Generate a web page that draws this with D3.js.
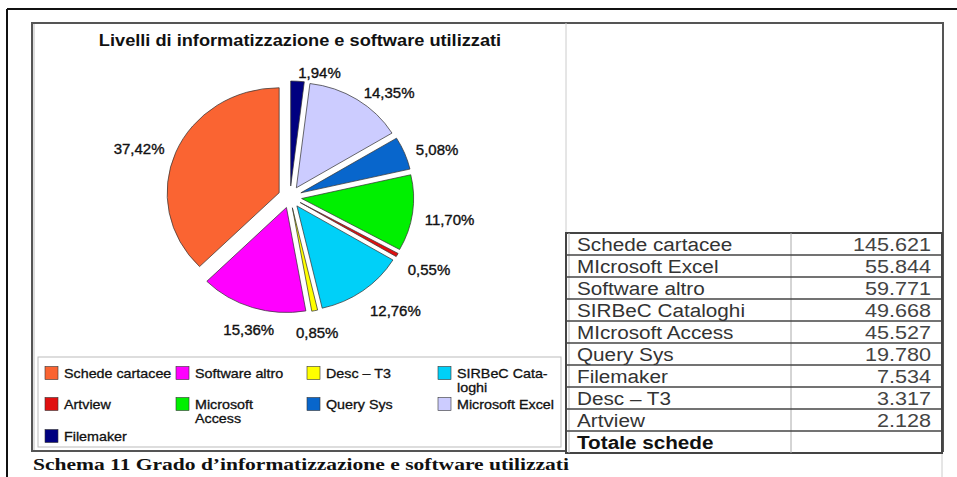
<!DOCTYPE html>
<html>
<head>
<meta charset="utf-8">
<script src="https://cdn.jsdelivr.net/npm/d3@7"></script>
<style>
  body { margin: 0; background: #fff; }
  svg { display: block; }
  text { font-family: "Liberation Sans", Arial, sans-serif; }
</style>
</head>
<body>
<svg id="chart" width="957" height="477"></svg>
<script>
// data, in legend order (the pie runs the same order counter-clockwise from 12 o'clock)
const categories = ["Schede cartacee", "Software altro", "Desc – T3", "SIRBeC Cataloghi", "Artview",
                    "Microsoft Access", "Query Sys", "Microsoft Excel", "Filemaker"];
const values = [145621, 59771, 3317, 49668, 2128, 45527, 19780, 55844, 7534];
const colors = ["#fa6432", "#ff00ff", "#ffff00", "#00d0f8", "#e01010", "#00f000", "#0866cc", "#ccccff", "#000080"];
const legendLines = [["Schede cartacee"], ["Software altro"], ["Desc – T3"], ["SIRBeC Cata-", "loghi"], ["Artview"],
                     ["Microsoft", "Access"], ["Query Sys"], ["Microsoft Excel"], ["Filemaker"]];

// table on the right, its own order and spelling
const tableKeys = ["Schede cartacee", "Microsoft Excel", "Software altro", "SIRBeC Cataloghi", "Microsoft Access",
                   "Query Sys", "Filemaker", "Desc – T3", "Artview"];
const tableLabels = ["Schede cartacee", "MIcrosoft Excel", "Software altro", "SIRBeC Cataloghi", "MIcrosoft Access",
                     "Query Sys", "Filemaker", "Desc – T3", "Artview"];
const totalLabel = "Totale schede";

const chartTitle = "Livelli di informatizzazione e software utilizzati";
const caption = "Schema 11 Grado d\u2019informatizzazione e software utilizzati";

const it = d3.formatLocale({decimal: ",", thousands: ".", grouping: [3], currency: ["€", ""]});
const fmtPct = it.format(".2%");
const fmtNum = it.format(",d");

const svg = d3.select("#chart");

// stretch text horizontally (the scanned picture is wider than tall)
function stretch(sel, f) {
  sel.each(function() {
    const w = this.getComputedTextLength();
    d3.select(this).attr("textLength", w * f).attr("lengthAdjust", "spacingAndGlyphs");
  });
}

// page frame
svg.append("line").attr("x1", 7).attr("x2", 957).attr("y1", 9).attr("y2", 9).attr("stroke", "#111").attr("stroke-width", 2);
svg.append("line").attr("x1", 7).attr("x2", 7).attr("y1", 9).attr("y2", 477).attr("stroke", "#111").attr("stroke-width", 2);
svg.append("line").attr("x1", 942).attr("x2", 942).attr("y1", 452).attr("y2", 477).attr("stroke", "#ccc");

// outer table frame
svg.append("rect").attr("x", 32).attr("y", 23).attr("width", 911).attr("height", 428)
  .attr("fill", "none").attr("stroke", "#555").attr("stroke-width", 2);
svg.append("line").attr("x1", 566).attr("x2", 566).attr("y1", 23).attr("y2", 233).attr("stroke", "#ccc");
svg.append("line").attr("x1", 34).attr("x2", 34).attr("y1", 24).attr("y2", 450).attr("stroke", "#bbb");

// title
svg.append("text").attr("x", 300).attr("y", 46).attr("text-anchor", "middle")
  .style("font-size", "17px").style("font-weight", "bold").attr("fill", "#111")
  .text(chartTitle).call(stretch, 1.07);

// pie
const cx = 290, cy = 197, r = 105, sx = 1.067, explode = 11;
const pie = d3.pie().sort(null).startAngle(0).endAngle(-2 * Math.PI);
const arcs = pie(values);
const arc = d3.arc().innerRadius(0).outerRadius(r);

const gPie = svg.append("g").attr("transform", `translate(${cx},${cy}) scale(${sx},1)`);
gPie.selectAll("path")
  .data(arcs)
  .join("path")
    .attr("transform", d => {
      const a = (d.startAngle + d.endAngle) / 2;
      return `translate(${explode * Math.sin(a)},${-explode * Math.cos(a)})`;
    })
    .attr("d", arc)
    .attr("fill", (d, i) => colors[i])
    .attr("stroke", "#333")
    .attr("stroke-width", 0.7);

// percentage labels
const total = d3.sum(values);
const labelR = r + explode + 3;
svg.append("g").selectAll("text")
  .data(arcs)
  .join("text")
    .each(function(d) {
      const a = (d.startAngle + d.endAngle) / 2;
      const s = Math.sin(a), c = Math.cos(a);
      let x = cx + sx * labelR * s + 9 * s;
      let y = cy - labelR * c + 15 * Math.sqrt(Math.max(0, -c)) - 5 * c + 5;
      let anchor;
      if (c > 0) anchor = s >= 0 ? "start" : "end";
      else anchor = Math.abs(s) < 0.4 ? "middle" : (s > 0 ? "start" : "end");
      d3.select(this).attr("x", x).attr("y", y).attr("text-anchor", anchor);
    })
    .style("font-size", "14px")
    .attr("fill", "#111")
    .attr("stroke", "#111").attr("stroke-width", 0.35)
    .text(d => fmtPct(d.value / total))
    .call(stretch, 1.07);

// legend
svg.append("rect").attr("x", 38).attr("y", 357).attr("width", 523).attr("height", 90)
  .attr("fill", "none").attr("stroke", "#bbb");
const col = d3.scaleBand().domain([0, 1, 2, 3]).range([45, 569]);
const rowY = [373, 404, 436];
const lineH = 14;
const gLeg = svg.append("g");
categories.forEach((name, i) => {
  const x = col(i % 4), y = rowY[Math.floor(i / 4)];
  gLeg.append("rect").attr("x", x).attr("y", y - 6.5).attr("width", 13).attr("height", 13)
    .attr("fill", colors[i]).attr("stroke", "#333").attr("stroke-width", 0.6);
  legendLines[i].forEach((ln, k) => {
    gLeg.append("text").attr("x", x + 19).attr("y", y + 4.5 + k * lineH)
      .style("font-size", "13px").attr("fill", "#111")
      .attr("stroke", "#111").attr("stroke-width", 0.3)
      .text(ln).call(stretch, 1.1);
  });
});

// table
const tx0 = 566, tx1 = 791, tx2 = 942, ty0 = 233, rowH = 22;
const valueOf = k => values[categories.indexOf(k)];
const rows = tableKeys.map((k, i) => ({label: tableLabels[i], value: valueOf(k)}));
rows.push({label: totalLabel, value: null});
const yRow = d3.scaleBand().domain(d3.range(rows.length)).range([ty0, ty0 + rowH * rows.length]);

const gTab = svg.append("g");
gTab.append("rect").attr("x", tx0).attr("y", ty0).attr("width", tx2 - tx0).attr("height", rowH * rows.length)
  .attr("fill", "#fff").attr("stroke", "#444").attr("stroke-width", 2);
gTab.append("line").attr("x1", tx0 + 3).attr("x2", tx0 + 3).attr("y1", ty0).attr("y2", ty0 + rowH * rows.length)
  .attr("stroke", "#bbb");
gTab.append("line").attr("x1", tx1).attr("x2", tx1).attr("y1", ty0).attr("y2", ty0 + rowH * rows.length)
  .attr("stroke", "#aaa");
gTab.selectAll("line.row")
  .data(d3.range(1, rows.length))
  .join("line").attr("class", "row")
    .attr("x1", tx0).attr("x2", tx2)
    .attr("y1", i => yRow(i)).attr("y2", i => yRow(i))
    .attr("stroke", "#444").attr("stroke-width", 1.5);

gTab.selectAll("text.lab")
  .data(rows)
  .join("text").attr("class", "lab")
    .attr("x", tx0 + 11)
    .attr("y", (d, i) => yRow(i) + 17.5)
    .style("font-size", "18px")
    .style("font-weight", (d, i) => d.value === null ? "bold" : "normal")
    .attr("fill", (d) => d.value === null ? "#111" : "#333")
    .text(d => d.label)
    .call(stretch, 1.15);

gTab.selectAll("text.val")
  .data(rows.filter(d => d.value !== null))
  .join("text").attr("class", "val")
    .attr("x", tx2 - 11)
    .attr("y", (d, i) => yRow(i) + 17.5)
    .attr("text-anchor", "end")
    .style("font-size", "18px")
    .attr("fill", "#444")
    .text(d => fmtNum(d.value))
    .call(stretch, 1.2);

// caption under the chart
svg.append("text").attr("x", 33).attr("y", 470)
  .style("font-family", "'Liberation Serif', 'Times New Roman', serif")
  .style("font-size", "17px").style("font-weight", "bold").attr("fill", "#111")
  .text(caption)
  .each(function() {
    d3.select(this).attr("textLength", 536).attr("lengthAdjust", "spacingAndGlyphs");
  });
</script>
</body>
</html>
